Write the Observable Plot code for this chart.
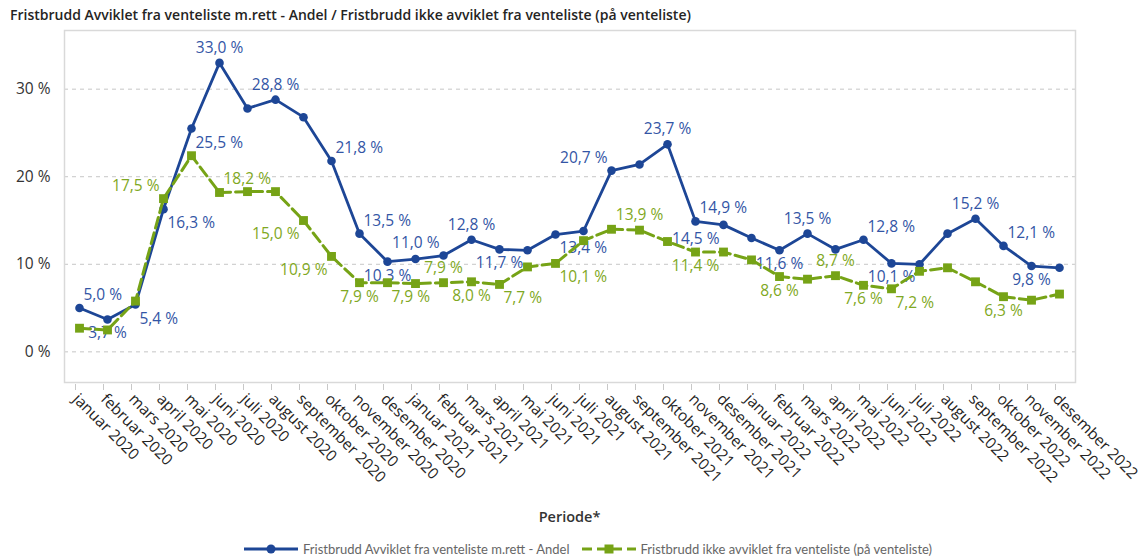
<!DOCTYPE html>
<html>
<head>
<meta charset="utf-8">
<script src="https://cdn.jsdelivr.net/npm/d3@7"></script>
<script src="https://cdn.jsdelivr.net/npm/@observablehq/plot@0.6"></script>
<style>
  body { margin: 0; background: #fff; font-family: "Open Sans", "Noto Sans", sans-serif; }
  #wrap { position: relative; width: 1145px; height: 558px; overflow: hidden; }
  #title { position: absolute; left: 10px; top: 7px; font-size: 14px; font-weight: 600; color: #252423; white-space: nowrap; line-height: 16px; }
  #chart { position: absolute; left: 0; top: 0; }
  #xlabel { position: absolute; left: 0; width: 1139px; top: 508px; text-align: center; font-size: 14.5px; font-weight: 600; color: #333; line-height: 18px; }
  #legend { position: absolute; left: 244px; top: 542px; font-family: Lato, "Open Sans", sans-serif; font-size: 13px; color: #666; white-space: nowrap; line-height: 14px; display: flex; align-items: center; }
  #legend svg { display: block; margin-right: 5px; }
  #legend .item { display: flex; align-items: center; margin-right: 12px; }
</style>
</head>
<body>
<div id="wrap">
  <div id="chart"></div>
  <div id="title"></div>
  <div id="xlabel">Periode*</div>
  <div id="legend"></div>
</div>
<script>
// ---- data ----
const monthNames = ["januar","februar","mars","april","mai","juni","juli","august","september","oktober","november","desember"];
const years = [2020, 2021, 2022];
const periods = years.flatMap(y => monthNames.map(m => `${m} ${y}`));

const seriesNames = [
  "Fristbrudd Avviklet fra venteliste m.rett - Andel",
  "Fristbrudd ikke avviklet fra venteliste (på venteliste)"
];

// Andel avviklet (%), blue
const avviklet = [
  5.0, 3.7, 5.4, 16.3, 25.5, 33.0, 27.8, 28.8, 26.8, 21.8, 13.5, 10.3,
  10.6, 11.0, 12.8, 11.7, 11.6, 13.4, 13.8, 20.7, 21.4, 23.7, 14.9, 14.5,
  13.0, 11.6, 13.5, 11.7, 12.8, 10.1, 10.0, 13.5, 15.2, 12.1, 9.8, 9.6
];
// Ikke avviklet (%), green
const ikkeAvviklet = [
  2.7, 2.5, 5.8, 17.5, 22.4, 18.2, 18.3, 18.3, 15.0, 10.9, 7.9, 7.9,
  7.8, 7.9, 8.0, 7.7, 9.7, 10.1, 12.7, 14.0, 13.9, 12.6, 11.4, 11.4,
  10.5, 8.6, 8.3, 8.7, 7.6, 7.2, 9.2, 9.6, 8.0, 6.3, 5.9, 6.6
];

const yTicks = [0, 10, 20, 30];

// which points carry a data label, and where (style only)
const avvikletLabelPos = [
  "tr","b","br","br","br","t",null,"t",null,"tr","tr","b",
  null,"tl","t","b",null,"br",null,"tl",null,"t","tr","bl",
  null,"b","t",null,"tr","b",null,null,"t","tr","b",null
];
const ikkeLabelPos = [
  null,null,null,"tl",null,"tr",null,null,"bl","bl","b","br",
  null,"t","b","br",null,"br",null,null,"t",null,"b",null,
  null,"b",null,"t","b","br",null,null,null,"b",null,null
];

// ---- styles ----
const blue = "#1d4696", blueLabel = "#3355a5";
const green = "#76a316", greenLabel = "#7fa823";
const place = {
  t:  {dx: 0,  dy: -15, textAnchor: "middle"},
  b:  {dx: 0,  dy: 14,  textAnchor: "middle"},
  tr: {dx: 4,  dy: -13, textAnchor: "start"},
  br: {dx: 4,  dy: 14,  textAnchor: "start"},
  tl: {dx: -4, dy: -13, textAnchor: "end"},
  bl: {dx: -4, dy: 14,  textAnchor: "end"}
};

const fmt = v => v.toFixed(1).replace(".", ",") + " %";

const rowsA = periods.map((p, i) => ({period: p, value: avviklet[i], pos: avvikletLabelPos[i]}));
const rowsB = periods.map((p, i) => ({period: p, value: ikkeAvviklet[i], pos: ikkeLabelPos[i]}));

function labels(rows, color) {
  return Object.entries(place).map(([k, o]) =>
    Plot.text(rows.filter(d => d.pos === k), {
      x: "period", y: "value", text: d => fmt(d.value),
      fill: color, fontSize: 15.5, dx: o.dx, dy: o.dy, textAnchor: o.textAnchor
    })
  );
}

document.getElementById("title").textContent = seriesNames[0] + " / " + seriesNames[1];

const chart = Plot.plot({
  width: 1145,
  height: 530,
  marginTop: 30,
  marginLeft: 64,
  marginRight: 70,
  marginBottom: 148,
  style: {fontFamily: '"Open Sans", "Noto Sans", sans-serif', fontSize: "15px", background: "transparent"},
  x: {type: "point", domain: periods, padding: 0.5, insetRight: 2, label: null},
  y: {domain: [-3.5, 36.7], label: null},
  marks: [
    Plot.gridY(yTicks, {stroke: "#c6c6c6", strokeOpacity: 1, strokeDasharray: "4,4"}),
    Plot.frame({stroke: "#d9d9d9", strokeWidth: 1.5}),
    Plot.axisY(yTicks, {tickSize: 0, tickPadding: 14, tickFormat: d => d + " %", fontSize: 15.5, fill: "#333", label: null}),
    Plot.axisX({tickSize: 6, tickRotate: 45, tickPadding: 6, dx: -4, dy: 2, stroke: "#c8c8c8", fill: "#252423", fontSize: 15.5, label: null}),
    Plot.line(rowsA, {x: "period", y: "value", stroke: blue, strokeWidth: 2.8}),
    Plot.dot(rowsA, {x: "period", y: "value", fill: blue, r: 4.3, symbol: "circle"}),
    ...labels(rowsA, blueLabel),
    Plot.line(rowsB, {x: "period", y: "value", stroke: green, strokeWidth: 3, strokeDasharray: "11,5"}),
    Plot.dot(rowsB, {x: "period", y: "value", fill: green, r: 5, symbol: "square"}),
    ...labels(rowsB, greenLabel)
  ]
});
document.getElementById("chart").appendChild(chart);

// legend
const legend = document.getElementById("legend");
const sw = [
  `<svg width="54" height="12"><line x1="0" y1="6" x2="54" y2="6" stroke="${blue}" stroke-width="3"/><circle cx="27" cy="6" r="4.5" fill="${blue}"/></svg>`,
  `<svg width="54" height="12"><line x1="0" y1="6" x2="54" y2="6" stroke="${green}" stroke-width="3" stroke-dasharray="10,5"/><rect x="22.5" y="1.5" width="9" height="9" fill="${green}"/></svg>`
];
seriesNames.forEach((n, i) => {
  const item = document.createElement("div");
  item.className = "item";
  item.innerHTML = sw[i] + `<span>${n}</span>`;
  legend.appendChild(item);
});
</script>
</body>
</html>
